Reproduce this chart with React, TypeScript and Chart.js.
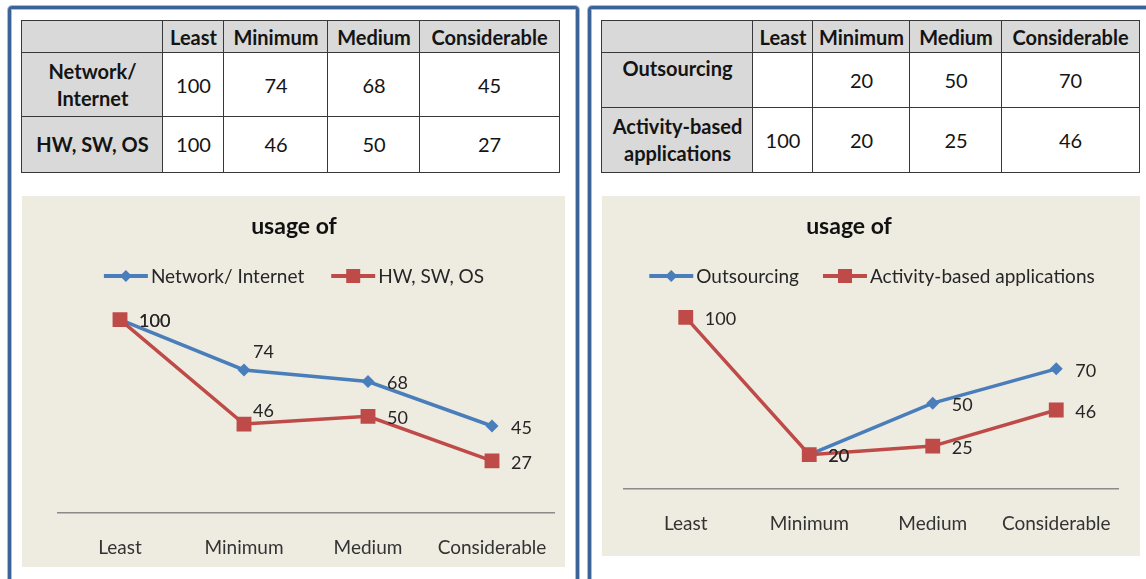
import React, { useEffect, useRef } from "react";
import { Chart, registerables } from "chart.js";

Chart.register(...registerables);

// ---------- data ----------
const categories = ["Least", "Minimum", "Medium", "Considerable"];
const networkInternet: (number | null)[] = [100, 74, 68, 45];
const hwSwOs: (number | null)[] = [100, 46, 50, 27];
const outsourcing: (number | null)[] = [null, 20, 50, 70];
const activityBased: (number | null)[] = [100, 20, 25, 46];

const leftSeriesNames = ["Network/ Internet", "HW, SW, OS"];
const leftRowHeaders = ["Network/\nInternet", "HW, SW, OS"];
const rightSeriesNames = ["Outsourcing", "Activity-based applications"];
const rightRowHeaders = ["Outsourcing", "Activity-based\napplications"];
const chartTitle = "usage of";
const yMin = 0;
const yMax = 120;

// ---------- styles ----------
const BLUE = "#4A7EBB";
const RED = "#BE4B48";
const FONT = "Lato, 'Open Sans', sans-serif";
const TEXT = "#262626";
const PANEL_BLUE = "#3B6397";
const CHART_BG = "#EEEBE1";

// per-point label nudges (dx, dy) added to the default "right" placement
const leftNudges = [
  [[0, 0], [-10, -20], [0, 0], [0, 0]],
  [[0, 0], [-10, -15], [0, 0], [0, 0]],
];
const rightNudges = [
  [[0, 0], [0, 0], [0, 0], [0, 0]],
  [[0, 0], [0, 0], [0, 0], [0, 0]],
];

type Series = { name: string; data: (number | null)[]; color: string; style: "rectRot" | "rect" };

type ChartSpec = {
  left: number;
  top: number;
  width: number;
  height: number;
  padding: { left: number; right: number; top: number; bottom: number };
  titleX: number;
  legendX: number;
  legendGap: number;
  series: Series[];
  nudges: number[][][];
};

function drawMarker(ctx: CanvasRenderingContext2D, style: string, x: number, y: number, r: number, color: string) {
  ctx.save();
  ctx.fillStyle = color;
  ctx.beginPath();
  if (style === "rectRot") {
    ctx.moveTo(x, y - r);
    ctx.lineTo(x + r, y);
    ctx.lineTo(x, y + r);
    ctx.lineTo(x - r, y);
    ctx.closePath();
  } else {
    ctx.rect(x - r, y - r, 2 * r, 2 * r);
  }
  ctx.fill();
  ctx.restore();
}

function LineChart({ spec }: { spec: ChartSpec }) {
  const ref = useRef<HTMLCanvasElement>(null);
  useEffect(() => {
    if (!ref.current) return;
    const decor = {
      id: "excelDecor",
      afterDatasetsDraw(chart: any) {
        const ctx: CanvasRenderingContext2D = chart.ctx;
        ctx.save();
        ctx.font = `18px ${FONT}`;
        ctx.fillStyle = TEXT;
        ctx.textAlign = "left";
        ctx.textBaseline = "middle";
        chart.data.datasets.forEach((ds: any, di: number) => {
          const meta = chart.getDatasetMeta(di);
          meta.data.forEach((pt: any, i: number) => {
            const v = ds.data[i];
            if (v === null || v === undefined) return;
            const [nx, ny] = spec.nudges[di][i];
            ctx.fillText(String(v), pt.x + 19 + nx, pt.y + 2 + ny);
          });
        });
        ctx.restore();
      },
      afterDraw(chart: any) {
        const ctx: CanvasRenderingContext2D = chart.ctx;
        ctx.save();
        // title
        ctx.font = `bold 23px ${FONT}`;
        ctx.fillStyle = "#111";
        ctx.textAlign = "center";
        ctx.textBaseline = "middle";
        ctx.fillText(chartTitle, spec.titleX, 31);
        // legend
        ctx.font = `19px ${FONT}`;
        const lineLen = 44;
        const textGap = 3;
        const itemGap = spec.legendGap;
        const widths = spec.series.map((s) => lineLen + textGap + ctx.measureText(s.name).width);
        const total = widths.reduce((a, b) => a + b, 0) + itemGap * (spec.series.length - 1);
        let x = spec.legendX - total / 2;
        const y = 80;
        spec.series.forEach((s, i) => {
          ctx.strokeStyle = s.color;
          ctx.lineWidth = 4;
          ctx.beginPath();
          ctx.moveTo(x, y);
          ctx.lineTo(x + lineLen, y);
          ctx.stroke();
          drawMarker(ctx, s.style, x + lineLen / 2, y, s.style === "rect" ? 7 : 6, s.color);
          ctx.fillStyle = TEXT;
          ctx.textAlign = "left";
          ctx.fillText(s.name, x + lineLen + textGap, y + 1);
          x += widths[i] + itemGap;
        });
        ctx.restore();
      },
    };
    const chart = new Chart(ref.current, {
      type: "line",
      data: {
        labels: categories,
        datasets: spec.series.map((s, i) => ({
          label: s.name,
          data: s.data,
          borderColor: s.color,
          backgroundColor: s.color,
          borderWidth: 3.5,
          pointStyle: s.style,
          pointRadius: s.style === "rect" ? 10.5 : 6.5,
          pointBorderWidth: 0,
          pointBackgroundColor: s.color,
          tension: 0,
          order: spec.series.length - i,
        })),
      },
      options: {
        responsive: false,
        animation: false,
        devicePixelRatio: 1,
        layout: { padding: spec.padding },
        plugins: {
          legend: { display: false },
          title: { display: false },
          tooltip: { enabled: false },
        },
        scales: {
          x: {
            type: "category",
            offset: true,
            grid: { display: false, drawTicks: false },
            border: { display: true, color: "#8A8A8A", width: 1.5 },
            ticks: { font: { family: FONT, size: 19 }, color: "#333", padding: 23 },
            afterFit: (s: any) => {
              s.height = 54;
              s.paddingLeft = 0;
              s.paddingRight = 0;
            },
          },
          y: { display: false, min: yMin, max: yMax },
        },
      },
      plugins: [decor],
    } as any);
    return () => chart.destroy();
  }, []);
  return (
    <div
      style={{
        position: "absolute",
        left: spec.left,
        top: spec.top,
        width: spec.width,
        height: spec.height,
        background: CHART_BG,
      }}
    >
      <canvas ref={ref} width={spec.width} height={spec.height} style={{ display: "block" }} />
    </div>
  );
}

type TableSpec = {
  colEdges: number[];
  rowEdges: number[];
  rowHeaders: string[];
  rowHeaderAlign: ("top" | "center")[];
  rows: (number | null)[][];
};

function DataTable({ spec }: { spec: TableSpec }) {
  const cells: React.ReactNode[] = [];
  const { colEdges, rowEdges } = spec;
  const border = "1px solid #383838";
  const mk = (key: string, r: number, c: number, content: React.ReactNode, bg: string, bold: boolean, align: "top" | "center") => {
    cells.push(
      <div
        key={key}
        style={{
          position: "absolute",
          left: colEdges[c] - 1,
          top: rowEdges[r] - 1,
          width: colEdges[c + 1] - colEdges[c] + 2,
          height: rowEdges[r + 1] - rowEdges[r] + 2,
          boxSizing: "border-box",
          border,
          background: bg,
          display: "flex",
          flexDirection: "column",
          alignItems: "center",
          justifyContent: align === "top" ? "flex-start" : "center",
          paddingTop: align === "top" ? 2 : 0,
          fontFamily: FONT,
          fontWeight: bold ? 700 : 400,
          fontSize: 20,
          lineHeight: "27px",
          color: "#141414",
          textAlign: "center",
          whiteSpace: "nowrap",
        }}
      >
        {content}
      </div>
    );
  };
  mk("h0", 0, 0, "", "#D9D9D9", true, "center");
  categories.forEach((c, i) => mk("h" + (i + 1), 0, i + 1, c, "#D9D9D9", true, "center"));
  spec.rows.forEach((row, r) => {
    const lines = spec.rowHeaders[r].split("\n").map((l, k) => <div key={k}>{l}</div>);
    mk("r" + r, r + 1, 0, lines, "#D9D9D9", true, spec.rowHeaderAlign[r]);
    row.forEach((v, c) => mk("c" + r + "_" + c, r + 1, c + 1, v === null ? "" : String(v), "#FFFFFF", false, "center"));
  });
  return <>{cells}</>;
}

function Panel({ left, width }: { left: number; width: number }) {
  return (
    <div
      style={{
        position: "absolute",
        left,
        top: 6,
        width,
        height: 640,
        boxSizing: "border-box",
        border: `3px solid ${PANEL_BLUE}`,
        borderRadius: 4,
        boxShadow: "inset 0 0 0 1px #A9BCD8, 0 0 0 1px #A9BCD8",
      }}
    />
  );
}

export default function App() {
  const leftChart: ChartSpec = {
    left: 22,
    top: 196,
    width: 543,
    height: 371,
    padding: { left: 36, right: 11, top: 85, bottom: 0 },
    titleX: 272,
    legendX: 272,
    legendGap: 27,
    series: [
      { name: leftSeriesNames[0], data: networkInternet, color: BLUE, style: "rectRot" },
      { name: leftSeriesNames[1], data: hwSwOs, color: RED, style: "rect" },
    ],
    nudges: leftNudges,
  };
  const rightChart: ChartSpec = {
    left: 602,
    top: 196,
    width: 538,
    height: 360,
    padding: { left: 22, right: 22, top: 87, bottom: 13 },
    titleX: 247,
    legendX: 270,
    legendGap: 24,
    series: [
      { name: rightSeriesNames[0], data: outsourcing, color: BLUE, style: "rectRot" },
      { name: rightSeriesNames[1], data: activityBased, color: RED, style: "rect" },
    ],
    nudges: rightNudges,
  };
  const leftTable: TableSpec = {
    colEdges: [22, 163, 224, 328, 420, 559],
    rowEdges: [21, 53, 117, 172],
    rowHeaders: leftRowHeaders,
    rowHeaderAlign: ["center", "center"],
    rows: [networkInternet, hwSwOs],
  };
  const rightTable: TableSpec = {
    colEdges: [602, 753, 813, 910, 1002, 1139],
    rowEdges: [21, 53, 108, 172],
    rowHeaders: rightRowHeaders,
    rowHeaderAlign: ["top", "center"],
    rows: [outsourcing, activityBased],
  };
  return (
    <div
      style={{
        position: "fixed",
        left: 0,
        top: 0,
        width: 1146,
        height: 579,
        overflow: "hidden",
        background: "#FFFFFF",
      }}
    >
      <Panel left={8} width={571} />
      <Panel left={588} width={620} />
      <DataTable spec={leftTable} />
      <DataTable spec={rightTable} />
      <LineChart spec={leftChart} />
      <LineChart spec={rightChart} />
    </div>
  );
}
